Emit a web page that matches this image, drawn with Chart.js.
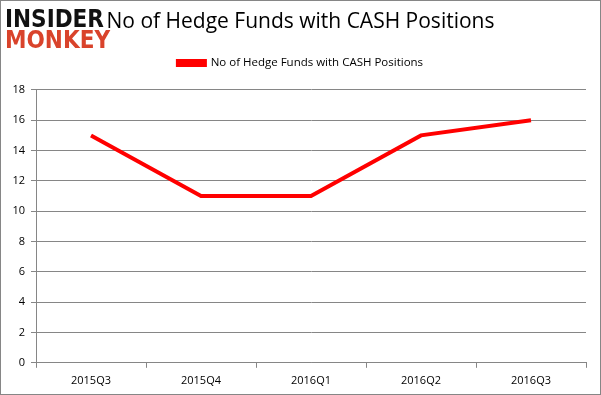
<!DOCTYPE html>
<html>
<head>
<meta charset="utf-8">
<script src="https://cdn.jsdelivr.net/npm/chart.js@4"></script>
<style>
  body { margin: 0; background: #fff; }
  #wrap { position: relative; width: 599px; height: 393px; border: 1px solid #868686; }
</style>
</head>
<body>
<div id="wrap"><canvas id="line-chart"></canvas></div>
<script>
// chart data
var quarters = ["2015Q3", "2015Q4", "2016Q1", "2016Q2", "2016Q3"];
var fundCounts = [15, 11, 11, 15, 16];
var yMin = 0, yMax = 18, yStep = 2;
var seriesName = "No of Hedge Funds with CASH Positions";
var chartTitle = "No of Hedge Funds with CASH Positions";

// little logo in the top left corner
var logoPlugin = {
    id: "logo",
    afterDraw: function (chart) {
        var ctx = chart.ctx;
        ctx.save();
        ctx.textBaseline = "alphabetic";
        ctx.textAlign = "left";
        ctx.font = "bold 24px 'DejaVu Sans Condensed', 'DejaVu Sans'";
        ctx.fillStyle = "#111111";
        ctx.fillText("INSIDER", 4, 26);
        ctx.fillStyle = "#d9432b";
        ctx.fillText("MONKEY", 4, 47);
        ctx.restore();
    }
};

new Chart(document.getElementById("line-chart"), {
    type: 'line',
    data: {
        labels: quarters,
        datasets: [{
            label: seriesName,
            data: fundCounts,
            borderColor: "#ff0000",
            backgroundColor: "#ff0000",
            borderWidth: 4,
            pointRadius: 0,
            tension: 0,
            fill: false
        }]
    },
    plugins: [logoPlugin],
    options: {
        responsive: true,
        maintainAspectRatio: false,
        animation: false,
        layout: { padding: { left: 0, right: 0, top: 0, bottom: 1 } },
        plugins: {
            title: {
                display: true,
                text: chartTitle,
                color: "#000",
                font: { family: "'Open Sans', sans-serif", size: 21, weight: 'normal' },
                padding: { top: 8, bottom: 0 }
            },
            legend: {
                display: true,
                weight: 1750,
                labels: {
                    color: "#000",
                    font: { family: "'Open Sans', sans-serif", size: 11.5 },
                    boxWidth: 27,
                    boxHeight: 4,
                    padding: 23
                }
            },
            // empty subtitle under the legend, just a gap above the plot
            subtitle: {
                display: true,
                text: "",
                font: { size: 1 },
                padding: { top: 0, bottom: 10 }
            },
            tooltip: { enabled: false }
        },
        scales: {
            x: {
                offset: true,
                grid: { offset: true, drawOnChartArea: false, drawTicks: true, tickLength: 5, color: "#868686" },
                border: { color: "#868686" },
                ticks: { color: "#000", font: { family: "'Open Sans', sans-serif", size: 11 }, padding: 6 }
            },
            y: {
                min: yMin,
                max: yMax,
                ticks: { stepSize: yStep, color: "#000", font: { family: "'Open Sans', sans-serif", size: 11 }, padding: 6 },
                grid: { color: "#868686", tickLength: 5 },
                border: { color: "#868686" },
                afterFit: function (scale) { scale.width = 35; }
            },
            // empty axis on the right, only to leave the margin there
            yRight: {
                position: 'right',
                display: true,
                ticks: { display: false },
                grid: { drawOnChartArea: false, drawTicks: false },
                border: { display: false },
                afterFit: function (scale) { scale.width = 14; }
            }
        }
    }
});
</script>
</body>
</html>
